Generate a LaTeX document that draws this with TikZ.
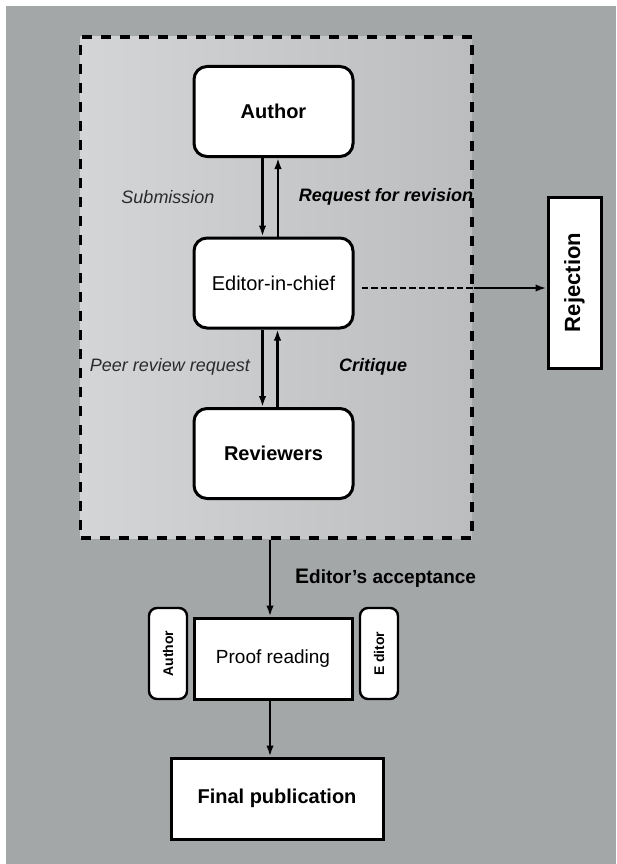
\documentclass[tikz,border=0pt]{standalone}
\usepackage{fontspec}
\setmainfont{Liberation Sans}
\usetikzlibrary{arrows.meta}
\definecolor{bggray}{HTML}{A4A7A8}
\definecolor{framelight}{HTML}{D3D5D6}
\definecolor{framedark}{HTML}{BBBDBF}
\definecolor{labelgray}{HTML}{2B2B2B}
\begin{document}
\begin{tikzpicture}[x=1pt,y=-1pt,
  rbox/.style={draw, line width=3pt, fill=white, rounded corners=13pt,
    minimum width=159pt, minimum height=90pt, inner sep=0pt},
  sbox/.style={draw, line width=3pt, fill=white, inner sep=0pt},
  smallbox/.style={draw, line width=2.4pt, fill=white, rounded corners=8pt, rotate=90,
    minimum width=91pt, minimum height=38pt, inner sep=0pt,
    font=\fontsize{14}{16}\selectfont\bfseries},
  arr/.style={line width=2.2pt, -{Latex[length=11pt,width=7.5pt]}},
  lbl/.style={inner sep=0pt, font=\fontsize{18}{20}\selectfont\itshape},
  blbl/.style={inner sep=0pt, font=\fontsize{18}{20}\selectfont\bfseries\itshape},
  frame/.style={draw, line width=3.2pt, dash pattern=on 10pt off 9pt,
    left color=framelight, right color=framedark, inner sep=0pt,
    minimum width=391.5pt, minimum height=501pt},
]
\useasboundingbox (0,0) rectangle (616,864);
\fill[white] (0,0) rectangle (616,864);
\fill[bggray] (6,6) rectangle (616,864);

\node[frame] (frame) at (276.25,287.5) {};

\node[rbox, font=\fontsize{20}{24}\selectfont\bfseries] (author) at (273.5,111.5) {Author};
\node[rbox, font=\fontsize{20}{24}\selectfont] (editor) at (273.5,283) {Editor-in-chief};
\node[rbox, font=\fontsize{20}{24}\selectfont\bfseries] (reviewers) at (273.5,453.5) {Reviewers};

\draw[arr] ([xshift=-11pt]author.south) -- ([xshift=-11pt]editor.north);
\draw[arr] ([xshift=4.5pt]editor.north) -- ([xshift=4.5pt]author.south);
\draw[arr] ([xshift=-11pt]editor.south) -- ([xshift=-11pt]reviewers.north);
\draw[arr] ([xshift=4pt]reviewers.north) -- ([xshift=4pt]editor.south);

\node[lbl, text=labelgray] (sub) at (168,197) {Submission};
\node[blbl] (rfr) at (386,197) {Request for revision};
\node[lbl, text=labelgray] (prr) at (170,367) {Peer review request};
\node[blbl] (crit) at (373,367) {Critique};

\node[sbox, rotate=90, minimum width=171pt, minimum height=53pt,
  font=\fontsize{22}{24}\selectfont\bfseries] (rej) at (574.5,282.5) {Rejection};

\coordinate (rjx) at (frame.east |- 0,288);
\draw[line width=2.8pt, dash pattern=on 6.5pt off 3pt] ([xshift=7pt]editor.east |- rjx) -- (rjx);
\draw[arr, line width=2.6pt] (rjx) -- (rej.north |- rjx);

\node[sbox, minimum width=158pt, minimum height=81pt,
  font=\fontsize{19}{22}\selectfont] (proof) at (273,658.5) {Proof reading};
\node[smallbox] (pa) at (168,653.5) {Author};
\node[smallbox] (pe) at (379,653.5) {E\kern3pt ditor};

\coordinate (acc) at (270,0 |- frame.south);
\draw[arr] (acc) -- (proof.north -| acc);
\node[anchor=west, inner sep=0pt, font=\fontsize{19}{22}\selectfont\bfseries] (acctext) at (295,578)
  {{\fontsize{21}{22}\selectfont E}ditor’s acceptance};

\node[sbox, minimum width=212pt, minimum height=81pt,
  font=\fontsize{20}{24}\selectfont\bfseries] (final) at (277,798.5) {Final publication};
\draw[arr] (proof.south -| acc) -- (final.north -| acc);
\end{tikzpicture}
\end{document}
